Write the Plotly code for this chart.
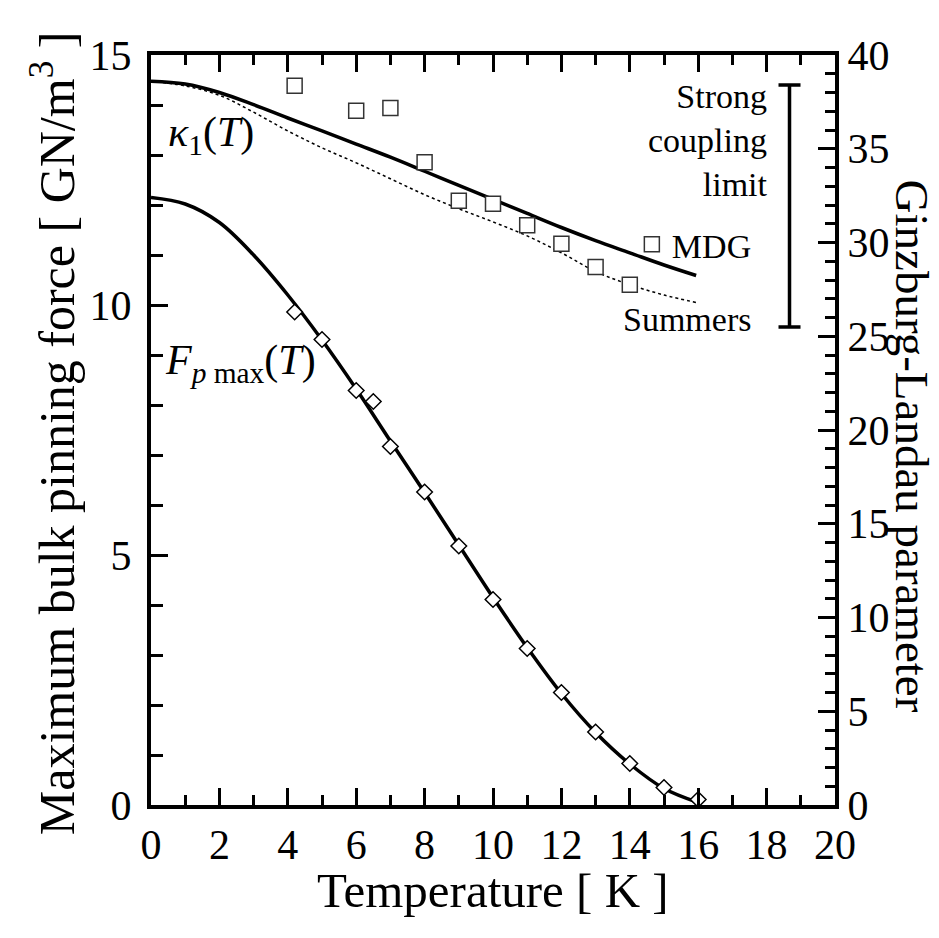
import plotly.graph_objects as go

# ---- data ----
# Maximum bulk pinning force curve (left axis)
fp_curve_T = [0, 1, 2, 3, 4, 5, 6, 7, 8, 9, 10, 11, 12, 13, 14, 15, 16]
fp_curve_F = [12.15, 12.02, 11.65, 11.0, 10.2, 9.3, 8.32, 7.28, 6.25, 5.2, 4.15, 3.15, 2.23, 1.45, 0.82, 0.33, 0.05]
# Measured pinning force (diamonds)
fp_data_T = [4.2, 5, 6, 6.5, 7, 8, 9, 10, 11, 12, 13, 14, 15, 16]
fp_data_F = [9.86, 9.31, 8.29, 8.07, 7.17, 6.26, 5.18, 4.11, 3.13, 2.25, 1.46, 0.83, 0.35, 0.11]
# GL parameter kappa_1(T) (right axis)
kappa_mdg_T = [0, 1, 2, 3, 4, 5, 6, 7, 8, 9, 10, 11, 12, 13, 14, 15, 15.94]
kappa_mdg_K = [38.6, 38.45, 38.0, 37.35, 36.64, 35.95, 35.25, 34.55, 33.8, 33.05, 32.3, 31.55, 30.8, 30.1, 29.45, 28.8, 28.24]
kappa_sum_T = [0, 1, 2, 3, 4, 5, 6, 7, 8, 9, 10, 11, 12, 13, 14, 15, 15.94]
kappa_sum_K = [38.6, 38.35, 37.85, 36.95, 35.95, 35.05, 34.25, 33.4, 32.55, 31.8, 31.1, 30.35, 29.45, 28.45, 27.75, 27.2, 26.8]
# MDG data points (squares)
mdg_T = [4.2, 6, 7, 8, 9, 10, 11, 12, 13, 14]
mdg_K = [38.36, 37.03, 37.17, 34.28, 32.23, 32.07, 30.92, 29.94, 28.69, 27.75]
# Strong coupling limit range
strong_T = 18.67
strong_lo = 25.5
strong_hi = 38.4

FONT = "Liberation Serif, Times New Roman, Times, serif"

fig = go.Figure()

fig.add_trace(go.Scatter(x=kappa_sum_T, y=kappa_sum_K, yaxis="y2", mode="lines",
                         line=dict(color="black", width=1.5, dash="3px,3px", shape="spline"),
                         showlegend=False))
fig.add_trace(go.Scatter(x=kappa_mdg_T, y=kappa_mdg_K, yaxis="y2", mode="lines",
                         line=dict(color="black", width=3.5, shape="spline"),
                         showlegend=False))
fig.add_trace(go.Scatter(x=fp_curve_T, y=fp_curve_F, mode="lines",
                         line=dict(color="black", width=3.5, shape="spline"),
                         showlegend=False))
fig.add_trace(go.Scatter(x=fp_data_T, y=fp_data_F, mode="markers",
                         marker=dict(symbol="diamond", size=12, color="white",
                                     line=dict(color="black", width=1.5)),
                         showlegend=False))
fig.add_trace(go.Scatter(x=mdg_T, y=mdg_K, yaxis="y2", mode="markers", name="MDG",
                         marker=dict(symbol="square", size=15, color="white",
                                     line=dict(color="#333333", width=1.5)),
                         showlegend=True))
fig.add_trace(go.Scatter(x=[strong_T], y=[(strong_lo + strong_hi) / 2], yaxis="y2",
                         mode="markers", marker=dict(size=1, color="black"),
                         error_y=dict(type="data", symmetric=True,
                                      array=[(strong_hi - strong_lo) / 2],
                                      color="black", thickness=3.5, width=11),
                         showlegend=False))

axis_common = dict(showgrid=False, zeroline=False, showline=True, linecolor="black",
                   linewidth=4, ticks="inside", tickcolor="black", tickwidth=3,
                   ticklen=17, tickfont=dict(family=FONT, size=42, color="black"))

fig.update_layout(
    width=939, height=938,
    margin=dict(l=143, r=112, t=47, b=141),
    paper_bgcolor="white", plot_bgcolor="white",
    font=dict(family=FONT, color="black"),
    xaxis=dict(range=[0, 20], dtick=2, tick0=0, mirror="ticks",
               minor=dict(dtick=1, ticklen=10, ticks="inside", tickcolor="black", tickwidth=3),
               **axis_common),
    yaxis=dict(range=[0, 15], dtick=5, tick0=0, ticklabelstandoff=7,
               minor=dict(dtick=1, ticklen=12, ticks="inside", tickcolor="black", tickwidth=3),
               **axis_common),
    yaxis2=dict(range=[0, 40], dtick=5, tick0=0, overlaying="y", side="right",
                minor=dict(dtick=1, ticklen=10, ticks="inside", tickcolor="black", tickwidth=3),
                **axis_common),
    legend=dict(x=0.703, y=0.747, xanchor="left", yanchor="middle",
                bgcolor="rgba(0,0,0,0)", borderwidth=0,
                font=dict(family=FONT, size=34, color="black")),
)

ann_font = dict(family=FONT, color="black")
annotations = [
    dict(text="Temperature [ K ]", x=0.5, y=-0.114, xref="paper", yref="paper",
         xanchor="center", yanchor="middle", showarrow=False, font=dict(size=49, **ann_font)),
    dict(text="Maximum bulk pinning force [ GN/m<sup>3</sup> ]", x=-0.143, y=0.496,
         xref="paper", yref="paper", textangle=-90, xanchor="center", yanchor="middle",
         showarrow=False, font=dict(size=50, **ann_font)),
    dict(text="Ginzburg-Landau parameter", x=1.114, y=0.478, xref="paper", yref="paper",
         textangle=90, xanchor="center", yanchor="middle", showarrow=False,
         font=dict(size=47, **ann_font)),
    dict(text="<i>κ</i><sub>1</sub>(<i>T</i>)", x=0.45, y=13.4, xref="x", yref="y",
         xanchor="left", yanchor="middle", showarrow=False, font=dict(size=42, **ann_font)),
    dict(text="<i>F</i><sub><i>p</i> max</sub>(<i>T</i>)", x=0.35, y=8.84, xref="x", yref="y",
         xanchor="left", yanchor="middle", showarrow=False, font=dict(size=42, **ann_font)),
    dict(text="Strong<br>coupling<br>limit", x=18.1, y=13.3, xref="x", yref="y",
         xanchor="right", yanchor="middle", align="right", showarrow=False,
         font=dict(size=34, **ann_font)),
    dict(text="Summers", x=13.74, y=9.72, xref="x", yref="y",
         xanchor="left", yanchor="middle", showarrow=False, font=dict(size=34, **ann_font)),
]
fig.update_layout(annotations=annotations)

fig.write_html("out.html")
